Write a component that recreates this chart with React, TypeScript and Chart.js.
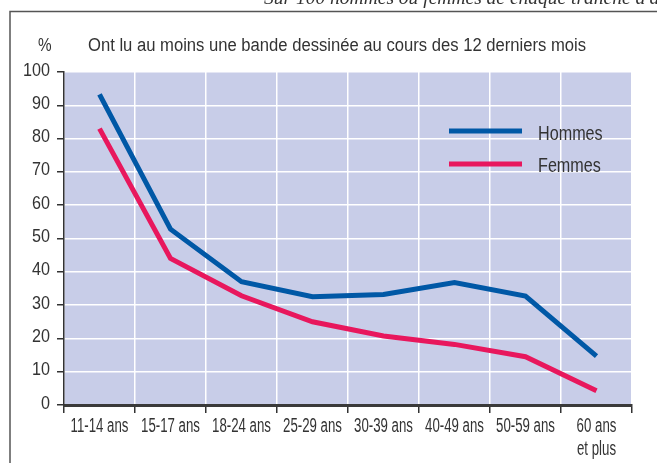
import React, { useEffect, useRef } from 'react';
import { Chart, registerables } from 'chart.js';

Chart.register(...registerables);

const categories: string[][] = [
  ['11-14 ans'],
  ['15-17 ans'],
  ['18-24 ans'],
  ['25-29 ans'],
  ['30-39 ans'],
  ['40-49 ans'],
  ['50-59 ans'],
  ['60 ans', 'et plus'],
];
const hommes = [93.3, 52.8, 37, 32.5, 33.2, 36.8, 32.7, 14.7];
const femmes = [83, 44, 32.8, 25, 20.7, 18.2, 14.5, 4.3];
const yTicks = [0, 10, 20, 30, 40, 50, 60, 70, 80, 90, 100];
const seriesNames = ['Hommes', 'Femmes'];
const titleText = 'Ont lu au moins une bande dessinée au cours des 12 derniers mois';
const unitText = '%';
const topNote = "Sur 100 hommes ou femmes de chaque tranche d'âge";

const FONT = "'Liberation Sans', Arial, sans-serif";
const BLUE = '#0058a6';
const PINK = '#e8175d';
const TEXT = '#333333';

function condensed(
  ctx: CanvasRenderingContext2D,
  text: string,
  x: number,
  y: number,
  size: number,
  sx: number,
  align: 'left' | 'center' | 'right'
) {
  ctx.save();
  ctx.font = `${size}px ${FONT}`;
  ctx.textBaseline = 'alphabetic';
  ctx.textAlign = align;
  ctx.fillStyle = TEXT;
  ctx.translate(x, y);
  ctx.scale(sx, 1);
  ctx.fillText(text, 0, 0);
  ctx.restore();
}

export default function App() {
  const ref = useRef<HTMLCanvasElement | null>(null);

  useEffect(() => {
    if (!ref.current) return;
    const decor = {
      id: 'decor',
      beforeDraw(chart: any) {
        const { ctx, chartArea } = chart;
        ctx.save();
        ctx.fillStyle = '#ffffff';
        ctx.fillRect(0, 0, chart.width, chart.height);
        // top note (cut off at top edge)
        ctx.fillStyle = '#333';
        ctx.font = "italic 19.5px 'Liberation Serif', serif";
        ctx.textBaseline = 'alphabetic';
        ctx.textAlign = 'left';
        ctx.fillText(topNote, 264, 4);
        // frame
        ctx.strokeStyle = '#555';
        ctx.lineWidth = 1.5;
        ctx.beginPath();
        ctx.moveTo(10, chart.height + 5);
        ctx.lineTo(10, 11.5);
        ctx.lineTo(chart.width + 5, 11.5);
        ctx.stroke();
        // plot bg
        ctx.fillStyle = '#c8cde8';
        ctx.fillRect(chartArea.left, chartArea.top, chartArea.right - chartArea.left, chartArea.bottom - chartArea.top);
        // title
        ctx.font = `18px ${FONT}`;
        const w = ctx.measureText(titleText).width;
        ctx.restore();
        condensed(ctx, unitText, 38, 51, 18, 0.85, 'left');
        condensed(ctx, titleText, 88, 51, 18, 498 / w, 'left');
      },
      afterDraw(chart: any) {
        const { ctx } = chart;
        const xs = chart.scales.x;
        const ys = chart.scales.y;
        // y labels
        yTicks.forEach((v) => {
          condensed(ctx, String(v), 50, ys.getPixelForValue(v) + 3.5, 19, 0.85, 'right');
        });
        // x labels
        categories.forEach((lines, i) => {
          const px = xs.getPixelForValue(i);
          lines.forEach((ln, j) => {
            condensed(ctx, ln, px, 432 + j * 23, 19.5, 0.68, 'center');
          });
        });
        // legend
        ctx.save();
        const colors = [BLUE, PINK];
        const ly = [131, 164];
        const lb = [140, 172];
        seriesNames.forEach((n, i) => {
          ctx.strokeStyle = colors[i];
          ctx.lineWidth = 5;
          ctx.beginPath();
          ctx.moveTo(449, ly[i]);
          ctx.lineTo(522, ly[i]);
          ctx.stroke();
          condensed(ctx, n, 538, lb[i], 21, 0.77, 'left');
        });
        ctx.restore();
      },
    };

    const chart = new Chart(ref.current, {
      type: 'line',
      data: {
        labels: categories,
        datasets: [
          {
            label: seriesNames[0],
            data: hommes,
            borderColor: BLUE,
            backgroundColor: BLUE,
            borderWidth: 5,
            pointRadius: 0,
            tension: 0,
            borderCapStyle: 'butt',
            borderJoinStyle: 'miter',
          },
          {
            label: seriesNames[1],
            data: femmes,
            borderColor: PINK,
            backgroundColor: PINK,
            borderWidth: 5,
            pointRadius: 0,
            tension: 0,
            borderCapStyle: 'butt',
            borderJoinStyle: 'miter',
          },
        ],
      },
      options: {
        responsive: false,
        animation: false,
        devicePixelRatio: 1,
        layout: { padding: { top: 72, right: 25, left: 0, bottom: 0 } },
        plugins: { legend: { display: false }, tooltip: { enabled: false }, title: { display: false } },
        scales: {
          x: {
            type: 'category',
            offset: true,
            grid: {
              offset: true,
              color: '#ffffff',
              lineWidth: 1.5,
              tickColor: '#333',
              tickLength: 8,
              tickWidth: 1.5,
              drawOnChartArea: true,
              drawTicks: true,
            },
            border: { color: '#3a3a3a', width: 3 },
            ticks: { display: false, autoSkip: false, maxRotation: 0 },
            afterFit: (s: any) => {
              s.height = 58;
            },
          },
          y: {
            min: yTicks[0],
            max: yTicks[yTicks.length - 1],
            grid: {
              color: '#ffffff',
              lineWidth: 1.5,
              tickColor: '#333',
              tickLength: 7,
              tickWidth: 1.5,
              drawTicks: true,
            },
            border: { color: '#333', width: 1.5 },
            ticks: { display: false, stepSize: 10 },
            afterFit: (s: any) => {
              s.width = 64;
            },
          },
        },
      },
      plugins: [decor],
    } as any);
    return () => chart.destroy();
  }, []);

  return (
    <div style={{ position: 'absolute', left: 0, top: 0, width: 657, height: 463 }}>
      <canvas ref={ref} width={657} height={463} style={{ display: 'block' }} />
    </div>
  );
}
